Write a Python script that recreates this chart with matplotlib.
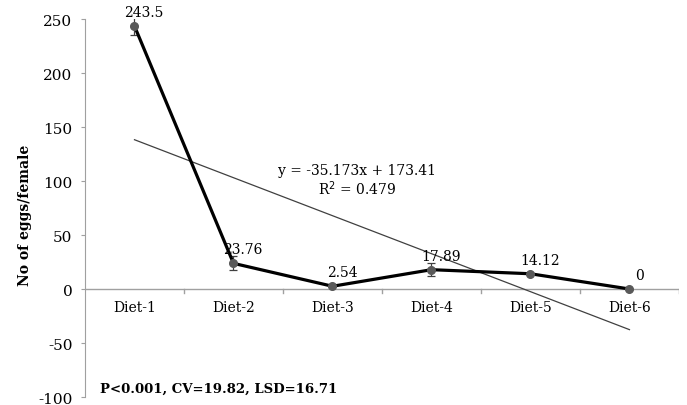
import matplotlib.pyplot as plt
import numpy as np

plt.rcParams['font.family'] = ['DejaVu Serif']
plt.rcParams['axes.unicode_minus'] = False

diets = ["Diet-1", "Diet-2", "Diet-3", "Diet-4", "Diet-5", "Diet-6"]
eggs = [243.5, 23.76, 2.54, 17.89, 14.12, 0]
errs = [8, 6.5, 0.5, 6, 0.5, 0]
labels = ["243.5", "23.76", "2.54", "17.89", "14.12", "0"]
slope = -35.173
intercept = 173.41
r2 = 0.479

fig = plt.figure(figsize=(6.87, 4.06), dpi=100)
ax = fig.add_axes([0.1237, 0.0197, 0.8646, 0.931])

x = np.arange(1, len(diets) + 1)

# trend line (linear)
trend = slope * x + intercept
ax.plot(x, trend, color='#404040', lw=0.9, zorder=2)

ax.errorbar(x, eggs, yerr=errs, fmt='none', ecolor='#404040', elinewidth=0.9,
            capsize=3, capthick=0.9, zorder=3)
ax.plot(x, eggs, color='black', lw=2.3, zorder=4)
ax.plot(x, eggs, 'o', color='#595959', ms=5.5, zorder=5)

for xi, yi, lab in zip(x, eggs, labels):
    ax.annotate(lab, (xi, yi), xytext=(7, 10), textcoords='offset points',
                ha='center', va='center', fontsize=10)

ax.text(3.25, 110, "y = -35.173x + 173.41", ha='center', va='center', fontsize=10)
ax.text(3.25, 94, "R$^2$ = " + str(r2), ha='center', va='center', fontsize=10)

ax.text(0.65, -92, "P<0.001, CV=19.82, LSD=16.71", fontweight='bold', fontsize=9.5,
        ha='left', va='center')

ax.set_xlim(0.5, 6.5)
ax.set_ylim(-100, 250)
ax.set_yticks(np.arange(-100, 251, 50))
ax.set_xticks([])
ax.tick_params(axis='y', labelsize=11, length=3, color='#a0a0a0', pad=6)

# category labels below the zero line, ticks between categories
ax.axhline(0, color='#a0a0a0', lw=1, zorder=1)
for xi, d in zip(x, diets):
    ax.text(xi, -17, d, ha='center', va='center', fontsize=10)
for b in np.arange(1.5, 7.0, 1.0):
    ax.plot([b, b], [0, -4], color='#a0a0a0', lw=1, zorder=1)

for s in ['top', 'right', 'bottom']:
    ax.spines[s].set_visible(False)
ax.spines['left'].set_color('#a0a0a0')

fig.text(0.036, 0.47, "No of eggs/female", rotation=90, fontweight='bold',
         fontsize=10, ha='center', va='center')

fig.savefig("out.png", dpi=100)
